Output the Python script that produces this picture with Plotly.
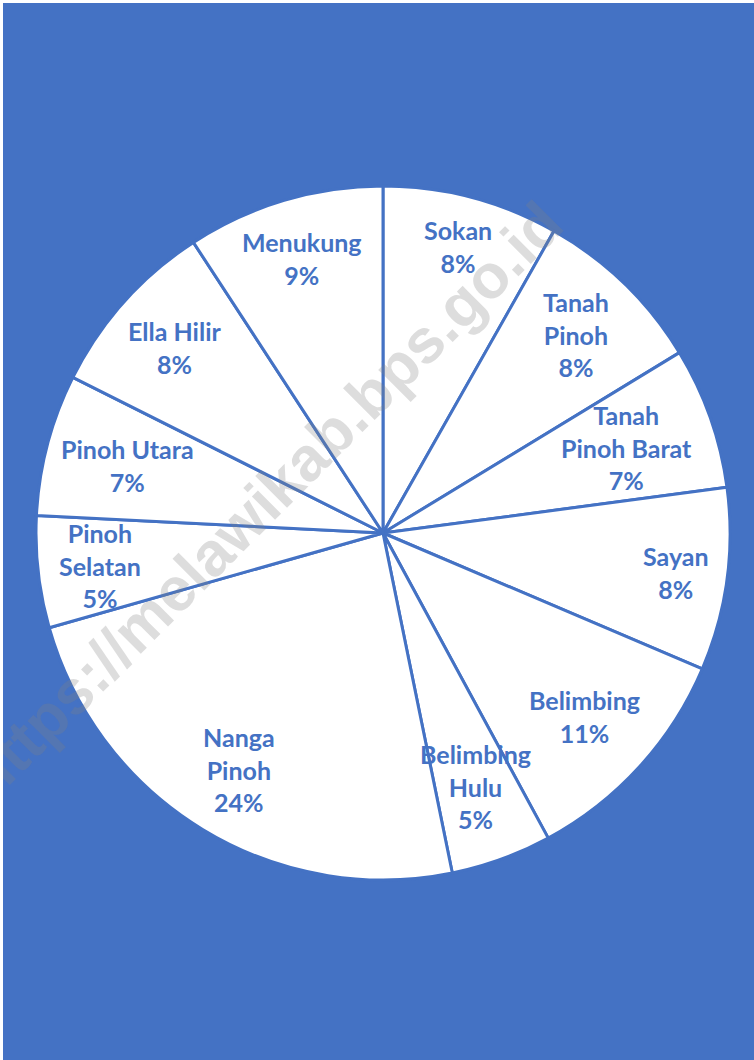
import math
import plotly.graph_objects as go

# ---- data ----
districts = ["Sokan", "Tanah Pinoh", "Tanah Pinoh Barat", "Sayan", "Belimbing",
             "Belimbing Hulu", "Nanga Pinoh", "Pinoh Selatan", "Pinoh Utara",
             "Ella Hilir", "Menukung"]
label_lines = ["Sokan", "Tanah<br>Pinoh", "Tanah<br>Pinoh Barat", "Sayan", "Belimbing",
               "Belimbing<br>Hulu", "Nanga<br>Pinoh", "Pinoh<br>Selatan", "Pinoh Utara",
               "Ella Hilir", "Menukung"]
shares = [8.2, 8.1, 6.6, 8.5, 10.7, 4.7, 23.8, 5.2, 6.6, 8.4, 9.2]

# ---- style / layout ----
BLUE = "#4472C4"
W, H = 751, 1057
CX, CY, R = 380, 530, 347          # pie centre / radius in figure pixels
FONT = "Lato"
FS = 25
LINE_H = 33


def text_width(s):
    narrow, wide = set("iltfrjI .:"), set("MmWw")
    units = sum(0.55 if c in narrow else 1.4 if c in wide else 1.0 for c in s)
    return 14 * units


fig = go.Figure(go.Pie(
    labels=districts, values=shares, sort=False, direction="clockwise", rotation=0,
    marker=dict(colors=["white"] * len(shares), line=dict(color=BLUE, width=3)),
    textinfo="none", hoverinfo="label+percent", showlegend=False,
    domain=dict(x=[(CX - R) / W, (CX + R) / W], y=[(H - CY - R) / H, (H - CY + R) / H]),
))

# labels placed along each slice bisector, pushed out until the box corner nears the rim
total = sum(shares)
cum = 0.0
annotations = []
for name, txt, v in zip(districts, label_lines, shares):
    mid = (cum + v / 2) / total * 2 * math.pi
    cum += v
    ux, uy = math.sin(mid), -math.cos(mid)       # screen coords, y down
    pct = round(v / total * 100)
    lines = txt.split("<br>") + [f"{pct}%"]
    w = max(text_width(s) for s in lines)
    h = LINE_H * len(lines) - 6
    a = math.copysign(w / 2, ux)
    b = math.copysign(h / 2, uy)
    T = 0.965 * R
    p = ux * a + uy * b
    d = -p + math.sqrt(p * p - (a * a + b * b - T * T))
    px, py = CX + d * ux, CY + d * uy
    annotations.append(dict(
        x=px / W, y=1 - py / H, xref="paper", yref="paper", showarrow=False,
        text=f"<b>{txt}<br>{pct}%</b>", align="center",
        xanchor="center", yanchor="middle",
        font=dict(family=FONT, size=FS, color=BLUE),
    ))

# watermark
annotations.append(dict(
    x=261 / W, y=1 - 498 / H, xref="paper", yref="paper", showarrow=False,
    text="<b>https://melawikab.bps.go.id</b>", textangle=-45,
    xanchor="center", yanchor="middle",
    font=dict(family="Liberation Sans", size=62, color="rgba(128,128,128,0.27)"),
))

fig.update_layout(
    width=W, height=H, margin=dict(l=0, r=0, t=0, b=0),
    paper_bgcolor=BLUE, plot_bgcolor=BLUE,
    annotations=annotations,
)

fig.write_html("out.html",
               post_script="document.body.style.margin='3px 0 0 3px';document.body.style.background='white';document.body.style.overflow='hidden';")
